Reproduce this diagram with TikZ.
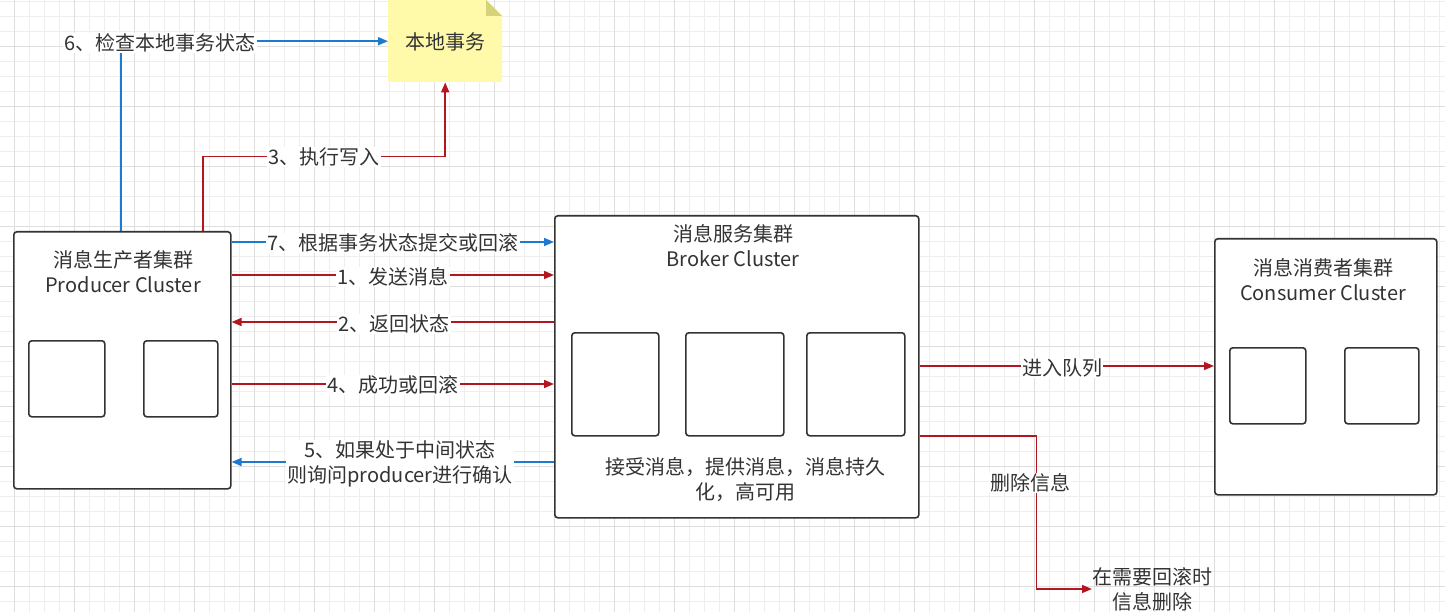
\documentclass[tikz,border=0pt]{standalone}
\usepackage{fontspec}
\setmainfont{Noto Sans CJK SC}
\usetikzlibrary{arrows.meta,calc}
\definecolor{edgered}{RGB}{180,22,32}
\definecolor{edgeblue}{RGB}{30,122,208}
\definecolor{ink}{RGB}{51,51,51}
\definecolor{notefill}{RGB}{255,250,170}
\definecolor{notefold}{RGB}{214,210,122}
\definecolor{gridminor}{RGB}{238,238,238}
\definecolor{gridmajor}{RGB}{222,222,222}
\begin{document}
\begin{tikzpicture}[x=1pt,y=-1pt,
  every node/.style={font=\fontsize{20}{25}\selectfont, text=ink},
  cluster/.style={draw=ink, line width=1.6pt, rounded corners=3pt, fill=white,
    anchor=north west, inner sep=0pt},
  member/.style={draw=ink, line width=1.6pt, rounded corners=3pt, fill=white,
    anchor=north west, inner sep=0pt},
  title/.style={align=center, inner sep=0pt},
  redflow/.style={draw=edgered, line width=1.6pt, -{Triangle[length=10pt,width=8pt]}},
  blueflow/.style={draw=edgeblue, line width=1.6pt, -{Triangle[length=10pt,width=8pt]}},
  bluewire/.style={draw=edgeblue, line width=1.6pt},
  lbl/.style={fill=white, inner sep=1pt, align=center}
]
\useasboundingbox (0,0) rectangle (1445,612);
\fill[white] (0,0) rectangle (1445,612);

% background grid
\foreach \x in {-0.3,14.7,...,1446} \draw[gridminor, line width=0.8pt] (\x,0) -- (\x,612);
\foreach \y in {1,16,...,612} \draw[gridminor, line width=0.8pt] (0,\y) -- (1445,\y);
\foreach \x in {14.7,74.7,...,1446} \draw[gridmajor, line width=0.8pt] (\x,0) -- (\x,612);
\foreach \y in {46,106,...,612} \draw[gridmajor, line width=0.8pt] (0,\y) -- (1445,\y);

% local transaction note
\fill[notefill] (388,0) -- (486,0) -- (502,16) -- (502,82) -- (388,82) -- cycle;
\fill[notefold] (486,0) -- (486,16) -- (502,16) -- cycle;
\node[minimum width=114pt, minimum height=82pt, anchor=north west, inner sep=0pt] (note) at (388,0) {};
\node (notetext) at (445,42) {本地事务};

% producer cluster
\node[cluster, minimum width=217pt, minimum height=257pt] (prod) at (13,231) {};
\node[title] (prodtitle) at (123,272) {消息生产者集群\\Producer Cluster};
\node[member, minimum width=76pt, minimum height=76pt] (prodA) at (28,340) {};
\node[member, minimum width=74pt, minimum height=76pt] (prodB) at (143,340) {};

% broker cluster
\node[cluster, minimum width=364pt, minimum height=302pt] (brk) at (554,215) {};
\node[title] (brktitle) at (733,246) {消息服务集群\\Broker Cluster};
\node[member, minimum width=87pt, minimum height=103pt] (brkA) at (571,332) {};
\node[member, minimum width=98pt, minimum height=103pt] (brkB) at (685,332) {};
\node[member, minimum width=98pt, minimum height=103pt] (brkC) at (806,332) {};
\node[title] (brknote) at (745,480) {接受消息，提供消息，消息持久\\化，高可用};

% consumer cluster
\node[cluster, minimum width=222pt, minimum height=256pt] (cons) at (1214,238) {};
\node[title] (constitle) at (1323,280) {消息消费者集群\\Consumer Cluster};
\node[member, minimum width=76pt, minimum height=76pt] (consA) at (1229,347) {};
\node[member, minimum width=74pt, minimum height=76pt] (consB) at (1344,347) {};

% rollback target text
\node[title, anchor=west] (rollbk) at (1092,589) {在需要回滚时\\信息删除};

% connector end points on the cluster borders
\coordinate (ptop6) at ($(prod.north west)+(108,0)$);
\coordinate (ptop3) at ($(prod.north west)+(190,0)$);
\coordinate (p7) at ($(prod.north east)+(0,11)$);
\coordinate (p1) at ($(prod.north east)+(0,44)$);
\coordinate (p2) at ($(prod.north east)+(0,91)$);
\coordinate (p4) at ($(prod.north east)+(0,153)$);
\coordinate (p5) at ($(prod.north east)+(0,231)$);
\coordinate (bq) at ($(brk.north east)+(0,151)$);
\coordinate (bd) at ($(brk.north east)+(0,221)$);

% connectors
\draw[blueflow] (ptop6) |- (note.west);
\draw[redflow] (ptop3) |- ($(note.south)+(0,74)$) -- (note.south);
\draw[blueflow] (p7) -- (p7 -| brk.west);
\draw[redflow] (p1) -- (p1 -| brk.west);
\draw[redflow] (p2 -| brk.west) -- (p2);
\draw[redflow] (p4) -- (p4 -| brk.west);
\draw[blueflow] (p5 -| brk.west) -- (p5);
\draw[redflow] (bq) -- (bq -| cons.west);
\draw[redflow] (bd) -- ++(117,0) |- (rollbk.west);

% connector labels
\node[lbl] (l6) at (160,43) {6、检查本地事务状态};
\node[lbl] (l3) at (324,157) {3、执行写入};
\node[lbl] (l7) at (393,243) {7、根据事务状态提交或回滚};
\node[lbl] (l1) at (393,277) {1、发送消息};
\node[lbl] (l2) at (394,324) {2、返回状态};
\node[lbl] (l4) at (393,385) {4、成功或回滚};
\node[lbl] (l5) at (400,464) {5、如果处于中间状态\\则询问producer进行确认};
\node[lbl] (lq) at (1062,368) {进入队列};
\node[lbl] (ld) at (1030,483) {删除信息};
\end{tikzpicture}
\end{document}
